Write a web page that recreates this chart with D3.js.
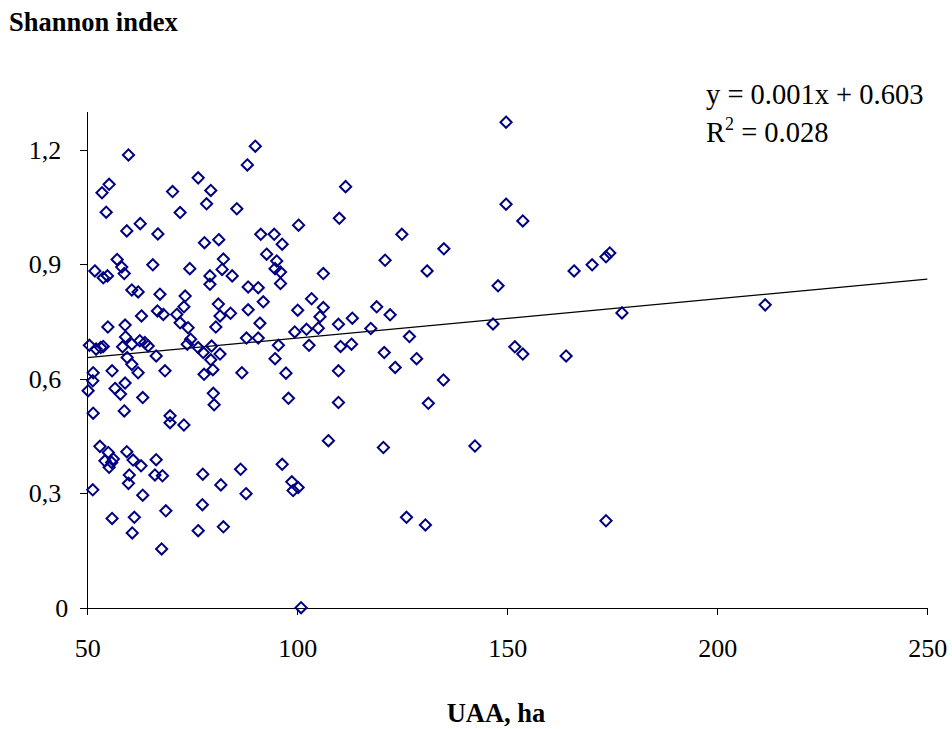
<!DOCTYPE html>
<html>
<head>
    <title>Shannon index vs UAA</title>
    <script src="https://d3js.org/d3.v7.min.js"></script>
    <style type="text/css">
        body{ margin:0; background:#fff; }
        .axis path,
        .axis line{
            fill: none;
            stroke: black;
            shape-rendering: crispEdges;
        }
        .axis text{
            font-family: "Liberation Serif", "Times New Roman", serif;
            font-size: 26px;
            fill: black;
        }
        .label{
            font-family: "Liberation Serif", "Times New Roman", serif;
            fill: black;
        }
    </style>
</head>
<body>
<script>
    var w = 952;
    var h = 729;

    // UAA (ha) and Shannon index
    var uaa = [
        59.8, 55.2, 53.5, 70.3, 54.5, 72.1, 62.6, 59.4, 66.8, 57.1,
        58.2, 65.6, 51.8, 53.8, 54.8, 58.8, 74.4, 90.0, 88.1, 76.4,
        79.4, 78.4, 85.6, 100.3, 91.3, 94.5, 96.4, 77.9, 81.3, 92.7,
        95.1, 94.7, 96.0, 96.0, 82.4, 82.1, 84.5, 79.2, 79.2, 88.3,
        90.7, 60.6, 62.1, 67.3, 73.3, 73.0, 66.7, 68.1, 62.9, 71.3,
        72.1, 74.0, 54.9, 59.0, 59.1, 60.6, 58.4, 62.5, 63.7, 64.5,
        73.8, 74.6, 50.5, 52.1, 53.2, 53.8, 59.5, 60.6, 66.4, 55.9,
        62.1, 68.5, 51.4, 51.3, 50.2, 56.6, 59.0, 57.9, 63.2, 51.4,
        58.8, 69.7, 69.7, 73.0, 91.9, 81.2, 81.6, 84.1, 88.3, 100.1,
        91.1, 80.6, 99.4, 87.9, 90.7, 76.4, 77.6, 79.6, 81.6, 79.4,
        95.5, 94.7, 77.8, 79.9, 86.8, 97.3, 80.0, 80.2, 97.9, 53.0,
        55.0, 54.2, 55.8, 56.2, 55.2, 59.4, 60.9, 62.8, 66.4, 66.1,
        67.9, 60.0, 59.8, 51.3, 63.2, 68.7, 55.9, 61.2, 60.7, 67.7,
        77.5, 81.8, 86.5, 87.8, 77.4, 76.4, 82.4, 96.4, 98.7, 100.2,
        99.0, 100.9, 111.5, 110.0, 124.9, 134.9, 120.9, 130.9, 106.2, 103.4,
        106.2, 105.4, 105.0, 102.2, 102.8, 109.8, 113.1, 110.3, 112.9, 118.9,
        122.1, 117.5, 126.7, 120.7, 128.4, 123.3, 109.8, 134.8, 109.8, 131.2,
        107.4, 120.5, 142.3, 126.0, 130.5, 149.7, 149.7, 153.7, 147.8, 146.6,
        151.8, 153.7, 164.0, 165.9, 170.2, 173.5, 174.4, 177.3, 211.4, 173.5
    ];
    var shannon = [
        1.187, 1.110, 1.088, 1.091, 1.037, 1.036, 1.007, 0.988, 0.980, 0.913,
        0.893, 0.899, 0.883, 0.865, 0.870, 0.876, 0.889, 1.210, 1.161, 1.127,
        1.094, 1.059, 1.046, 1.003, 0.979, 0.979, 0.953, 0.957, 0.965, 0.927,
        0.909, 0.889, 0.880, 0.850, 0.914, 0.887, 0.870, 0.870, 0.848, 0.841,
        0.839, 0.833, 0.828, 0.822, 0.817, 0.789, 0.778, 0.769, 0.765, 0.769,
        0.747, 0.734, 0.736, 0.741, 0.710, 0.691, 0.684, 0.700, 0.695, 0.686,
        0.691, 0.704, 0.688, 0.678, 0.682, 0.685, 0.656, 0.638, 0.660, 0.621,
        0.616, 0.621, 0.616, 0.595, 0.569, 0.575, 0.589, 0.560, 0.551, 0.510,
        0.516, 0.503, 0.485, 0.479, 0.802, 0.796, 0.765, 0.772, 0.781, 0.780,
        0.746, 0.736, 0.723, 0.707, 0.707, 0.682, 0.669, 0.686, 0.665, 0.650,
        0.688, 0.653, 0.612, 0.624, 0.616, 0.615, 0.562, 0.532, 0.549, 0.423,
        0.407, 0.385, 0.381, 0.390, 0.368, 0.409, 0.387, 0.372, 0.388, 0.348,
        0.346, 0.348, 0.326, 0.309, 0.295, 0.254, 0.234, 0.237, 0.196, 0.154,
        0.350, 0.322, 0.363, 0.299, 0.270, 0.202, 0.212, 0.376, 0.330, 0.315,
        0.307, 0.000, 1.104, 1.021, 0.979, 0.941, 0.911, 0.883, 0.876, 0.810,
        0.787, 0.763, 0.733, 0.730, 0.688, 0.743, 0.759, 0.685, 0.691, 0.789,
        0.768, 0.732, 0.711, 0.669, 0.653, 0.630, 0.621, 0.597, 0.538, 0.536,
        0.438, 0.420, 0.424, 0.237, 0.217, 1.273, 1.058, 1.014, 0.844, 0.744,
        0.684, 0.665, 0.660, 0.883, 0.899, 0.920, 0.930, 0.773, 0.794, 0.228
    ];
    var xTicks = [50, 100, 150, 200, 250];
    var yTicks = [0, 0.3, 0.6, 0.9, 1.2];

    // linear trend as drawn in the picture
    var trendSlope = 0.00103;
    var trendIntercept = 0.604;
    var eqText = "y = 0.001x + 0.603";
    var r2Value = "0.028";

    var dataset = uaa.map(function(d, i){ return [d, shannon[i]]; });

    var xScale = d3.scaleLinear()
                    .domain([50, 250])
                    .range([87.3, 927.3]);
    var yScale = d3.scaleLinear()
                    .domain([0, 1.3])
                    .range([607.7, 607.7 - 1.3*381.4]);

    var svg = d3.select("body")
                .append("svg")
                .attr("width", w)
                .attr("height", h);

    // axes
    var xAxis = d3.axisBottom(xScale)
                .tickValues(xTicks)
                .tickSize(7)
                .tickSizeOuter(0)
                .tickFormat(d3.format("d"));
    var yAxis = d3.axisLeft(yScale)
                .tickValues(yTicks)
                .tickSize(7)
                .tickSizeOuter(0)
                .tickFormat(function(d){ return d === 0 ? "0" : d3.format(".1f")(d).replace(".", ","); });

    var gx = svg.append("g")
        .attr("class", "axis")
        .attr("transform", "translate(0," + yScale(0) + ")")
        .call(xAxis);
    gx.selectAll("text").attr("y", 49).attr("dy", 0);

    var gy = svg.append("g")
        .attr("class", "axis")
        .attr("transform", "translate(" + xScale(50) + ",0)")
        .call(yAxis);
    gy.selectAll("text").attr("x", function(d){ return d === 0 ? -19 : -26; });

    // trend line
    svg.append("line")
        .attr("x1", xScale(50))
        .attr("y1", yScale(trendIntercept + trendSlope*50))
        .attr("x2", xScale(250))
        .attr("y2", yScale(trendIntercept + trendSlope*250))
        .attr("stroke", "black")
        .attr("stroke-width", 1.2);

    // points
    var diamond = "M0,-5.6L5.6,0L0,5.6L-5.6,0Z";
    svg.selectAll("path.pt")
        .data(dataset)
        .enter()
        .append("path")
        .attr("class", "pt")
        .attr("d", diamond)
        .attr("transform", function(d){
            return "translate(" + xScale(d[0]) + "," + yScale(d[1]) + ")";
        })
        .attr("fill", "none")
        .attr("stroke", "#000080")
        .attr("stroke-width", 2);

    // titles
    svg.append("text")
        .attr("class", "label")
        .attr("x", 9)
        .attr("y", 31)
        .attr("font-size", "26.5px")
        .attr("font-weight", "bold")
        .text("Shannon index");

    svg.append("text")
        .attr("class", "label")
        .attr("x", 496)
        .attr("y", 722)
        .attr("text-anchor", "middle")
        .attr("font-size", "26.5px")
        .attr("font-weight", "bold")
        .text("UAA, ha");

    // equation
    svg.append("text")
        .attr("class", "label")
        .attr("x", 706)
        .attr("y", 104)
        .attr("font-size", "28.5px")
        .text(eqText);

    var r2 = svg.append("text")
        .attr("class", "label")
        .attr("x", 706)
        .attr("y", 142)
        .attr("font-size", "28.5px");
    r2.append("tspan").text("R");
    r2.append("tspan").attr("font-size", "18px").attr("dy", -12).text("2");
    r2.append("tspan").attr("dy", 12).text(" = " + r2Value);
</script>
</body>
</html>
